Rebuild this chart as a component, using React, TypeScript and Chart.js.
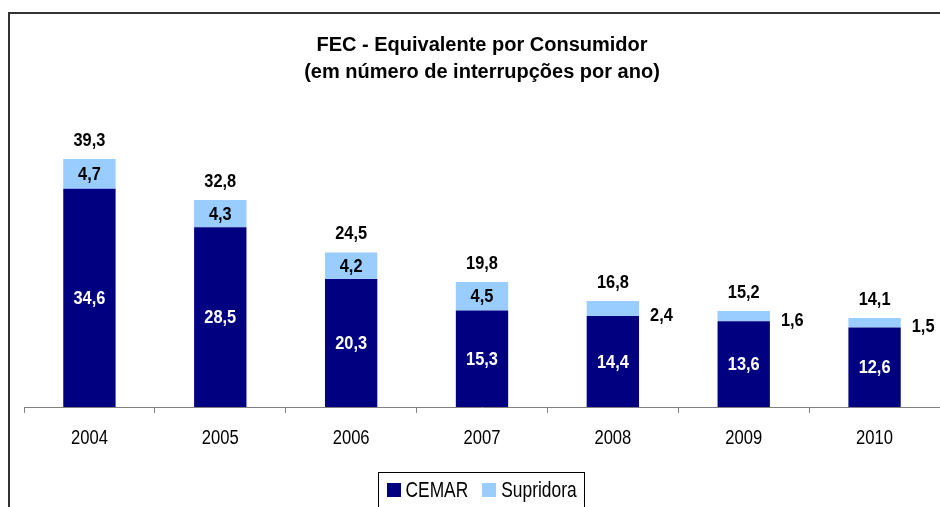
import { useEffect, useRef } from "react";
import { Chart, registerables } from "chart.js";

Chart.register(...registerables);

const categories = ["2004", "2005", "2006", "2007", "2008", "2009", "2010"];
const cemar = [34.6, 28.5, 20.3, 15.3, 14.4, 13.6, 12.6];
const supridora = [4.7, 4.3, 4.2, 4.5, 2.4, 1.6, 1.5];
const totals = [39.3, 32.8, 24.5, 19.8, 16.8, 15.2, 14.1];
const titleLines = ["FEC - Equivalente por Consumidor", "(em número de interrupções por ano)"];
const seriesNames = ["CEMAR", "Supridora"];
const seriesColors = ["#000080", "#99CCFF"];

const SANS = "'Liberation Sans', Arial, sans-serif";

const fmt = (v: number) => v.toFixed(1).replace(".", ",");

// draw text horizontally condensed (like Arial Narrow)
function narrowText(ctx: any, text: string, x: number, y: number, sx: number, align: "left" | "center") {
  ctx.save();
  ctx.translate(x, y);
  ctx.scale(sx, 1);
  ctx.textAlign = align;
  ctx.fillText(text, 0, 0);
  ctx.restore();
}

const decorPlugin = {
  id: "decor",
  beforeDraw(chart: any) {
    const ctx = chart.ctx;
    const ca = chart.chartArea;
    ctx.save();
    ctx.fillStyle = "#ffffff";
    ctx.fillRect(0, 0, chart.width, chart.height);
    ctx.strokeStyle = "#333333";
    ctx.lineWidth = 2;
    ctx.beginPath();
    ctx.moveTo(8, 13);
    ctx.lineTo(chart.width, 13);
    ctx.stroke();
    ctx.beginPath();
    ctx.moveTo(9, 12);
    ctx.lineTo(9, chart.height);
    ctx.stroke();
    ctx.fillStyle = "#000";
    ctx.font = `bold 20px ${SANS}`;
    ctx.textAlign = "center";
    ctx.textBaseline = "alphabetic";
    const cx = (ca.left + ca.right) / 2;
    ctx.fillText(titleLines[0], cx, 51);
    ctx.fillText(titleLines[1], cx, 78);
    ctx.restore();
  },
  afterDatasetsDraw(chart: any) {
    const ctx = chart.ctx;
    ctx.save();
    ctx.textBaseline = "middle";
    const m0 = chart.getDatasetMeta(0);
    const m1 = chart.getDatasetMeta(1);
    const sx = 0.91;
    ctx.font = `bold 18px ${SANS}`;
    m0.data.forEach((el: any, i: number) => {
      ctx.fillStyle = "#ffffff";
      narrowText(ctx, fmt(cemar[i]), el.x, (el.y + el.base) / 2 + 1, sx, "center");
    });
    m1.data.forEach((el: any, i: number) => {
      ctx.fillStyle = "#000";
      const h = el.base - el.y;
      if (h >= 22) {
        narrowText(ctx, fmt(supridora[i]), el.x, (el.y + el.base) / 2 + 1, sx, "center");
      } else {
        narrowText(ctx, fmt(supridora[i]), el.x + el.width / 2 + 11, el.base, sx, "left");
      }
      narrowText(ctx, fmt(totals[i]), el.x, el.y - 18, sx, "center");
    });
    // category labels
    const xs = chart.scales.x;
    ctx.font = `20px ${SANS}`;
    ctx.fillStyle = "#000";
    categories.forEach((c, i) => {
      narrowText(ctx, c, xs.getPixelForTick(i), 438, 0.83, "center");
    });
    ctx.restore();
  },
  afterDraw(chart: any) {
    const ctx = chart.ctx;
    ctx.save();
    const sx = 0.79;
    ctx.font = `22px ${SANS}`;
    const box = 14;
    const gapText = 5;
    const gapItem = 14;
    const widths = seriesNames.map((n) => ctx.measureText(n).width * sx);
    const inner = widths.reduce((a, w) => a + box + gapText + w, 0) + gapItem * (seriesNames.length - 1);
    const padX = 8;
    const totalW = inner + padX * 2;
    const cx = (chart.chartArea.left + chart.chartArea.right) / 2 - 1;
    const left = Math.round(cx - totalW / 2) + 0.5;
    const top = 472.5;
    ctx.strokeStyle = "#000";
    ctx.lineWidth = 1;
    ctx.strokeRect(left, top, Math.round(totalW), 60);
    let x = left + padX;
    const cy = 490;
    ctx.textBaseline = "middle";
    seriesNames.forEach((n, i) => {
      ctx.fillStyle = seriesColors[i];
      ctx.fillRect(Math.round(x), cy - 7, box, box);
      ctx.fillStyle = "#000";
      narrowText(ctx, n, x + box + gapText, cy + 1, sx, "left");
      x += box + gapText + widths[i] + gapItem;
    });
    ctx.restore();
  },
};

export default function App() {
  const ref = useRef<HTMLCanvasElement | null>(null);
  useEffect(() => {
    if (!ref.current) return;
    const chart = new Chart(ref.current, {
      type: "bar",
      data: {
        labels: categories,
        datasets: [
          { label: seriesNames[0], data: cemar, backgroundColor: seriesColors[0], borderWidth: 0 },
          { label: seriesNames[1], data: supridora, backgroundColor: seriesColors[1], borderWidth: 0 },
        ],
      },
      options: {
        responsive: false,
        animation: false,
        events: [],
        layout: { padding: { left: 24, right: 0, top: 123, bottom: 0 } },
        datasets: { bar: { categoryPercentage: 1, barPercentage: 0.4 } },
        plugins: { legend: { display: false }, title: { display: false }, tooltip: { enabled: false } },
        scales: {
          x: {
            stacked: true,
            grid: {
              offset: true,
              display: true,
              drawOnChartArea: false,
              drawTicks: true,
              tickLength: 6,
              color: "#808080",
              lineWidth: 1,
            },
            border: { display: true, color: "#808080", width: 1 },
            ticks: { color: "rgba(0,0,0,0)", font: { family: SANS, size: 20 }, padding: 10, maxRotation: 0 },
            afterFit: (s: any) => {
              s.height = 100;
            },
          },
          y: { stacked: true, display: false, min: 0, max: 45 },
        },
      },
      plugins: [decorPlugin],
    });
    return () => chart.destroy();
  }, []);
  return (
    <div style={{ position: "absolute", left: 0, top: 0, width: 940, height: 507, overflow: "hidden" }}>
      <canvas ref={ref} width={940} height={507} style={{ display: "block", width: 940, height: 507 }} />
    </div>
  );
}
